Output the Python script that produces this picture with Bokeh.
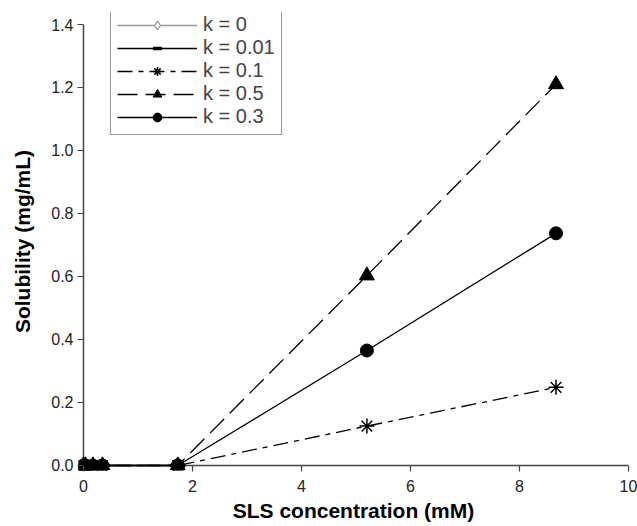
from bokeh.plotting import figure
from bokeh.models import Range1d, FixedTicker, Legend, LegendItem, NumeralTickFormatter
from bokeh.embed import file_html
from bokeh.resources import INLINE

# Data
sls = [0, 0.0347, 0.173, 0.347, 1.73, 5.2, 8.67]
sls_low = [0, 0.0347, 0.173, 0.347, 1.73]
k0 = [0, 0, 0, 0, 0]
k001 = [0, 0, 0, 0, 0]
k01 = [0, 0, 0, 0, 0, 0.125, 0.248]
k05 = [0, 0, 0, 0, 0, 0.603, 1.21]
k03 = [0, 0, 0, 0, 0, 0.365, 0.737]
x_ticks = [0, 2, 4, 6, 8, 10]
y_ticks = [0.0, 0.2, 0.4, 0.6, 0.8, 1.0, 1.2, 1.4]

FONT = "Liberation Sans"
AX = "#444444"

p = figure(width=637, height=526, output_backend="svg", toolbar_location=None,
           x_range=Range1d(-0.0917, 10), y_range=Range1d(-0.0159, 1.4381),
           min_border_left=78, min_border_right=9, min_border_top=12, min_border_bottom=56)
p.grid.visible = False
p.outline_line_color = None
p.background_fill_color = "white"
p.border_fill_color = "white"

for ax in (p.xaxis[0], p.yaxis[0]):
    ax.axis_line_color = None
    ax.major_tick_line_color = AX
    ax.major_tick_line_width = 1.2
    ax.major_tick_out = 1
    ax.major_tick_in = 5
    ax.minor_tick_line_color = None
    ax.major_label_text_font = FONT
    ax.major_label_text_font_size = "16px"
    ax.major_label_text_color = "#222222"
    ax.axis_label_text_font = FONT
    ax.axis_label_text_font_style = "bold"
    ax.axis_label_text_font_size = "21px"
    ax.axis_label_text_color = "black"

p.xaxis.ticker = FixedTicker(ticks=x_ticks)
p.yaxis.ticker = FixedTicker(ticks=y_ticks)
p.yaxis.formatter = NumeralTickFormatter(format="0.0")
p.xaxis.axis_label = "SLS concentration (mM)"
p.yaxis.axis_label = "Solubility (mg/mL)"
p.xaxis.major_label_standoff = 8
p.yaxis.major_label_standoff = 4
p.xaxis.axis_label_standoff = 4
p.yaxis.axis_label_standoff = 14

# axis lines through the data origin, spanning the tick range
p.segment(x0=[x_ticks[0], 0], y0=[0, y_ticks[0]], x1=[x_ticks[-1], 0], y1=[0, y_ticks[-1]],
          line_color=AX, line_width=1.5)

items = []

l0 = p.line(sls_low, k0, line_color="#999999", line_width=1.3)
s0 = p.scatter(sls_low, k0, marker="diamond", size=14, fill_color="white",
               line_color="#999999", line_width=1.3)
items.append(LegendItem(label="k = 0", renderers=[l0, s0]))

l1 = p.line(sls_low, k001, line_color="black", line_width=1.3)
s1 = p.scatter(sls_low, k001, marker="dash", size=15, line_color="black", line_width=3.5)
items.append(LegendItem(label="k = 0.01", renderers=[l1, s1]))

l2 = p.line(sls, k01, line_color="black", line_width=1.3, line_dash="15 6 5 6")
s2 = p.scatter(sls, k01, marker="asterisk", size=15, line_color="black", line_width=1.5)
items.append(LegendItem(label="k = 0.1", renderers=[l2, s2]))

l3 = p.line(sls, k05, line_color="black", line_width=1.3, line_dash="20 8")
s3 = p.scatter(sls, k05, marker="triangle", size=15, fill_color="black", line_color="black")
items.append(LegendItem(label="k = 0.5", renderers=[l3, s3]))

l4 = p.line(sls, k03, line_color="black", line_width=1.3)
s4 = p.scatter(sls, k03, marker="circle", size=13, fill_color="black", line_color="black")
items.append(LegendItem(label="k = 0.3", renderers=[l4, s4]))

legend = Legend(items=items, location=(32, 335), orientation="vertical",
                glyph_width=80, glyph_height=22, label_height=22, label_standoff=6,
                padding=6, spacing=0, margin=0,
                label_text_font=FONT, label_text_font_size="20px",
                border_line_color="#333333", border_line_width=1.2,
                background_fill_color="white", background_fill_alpha=1.0)
p.add_layout(legend, "center")

open("out.html", "w").write(file_html(p, INLINE))
